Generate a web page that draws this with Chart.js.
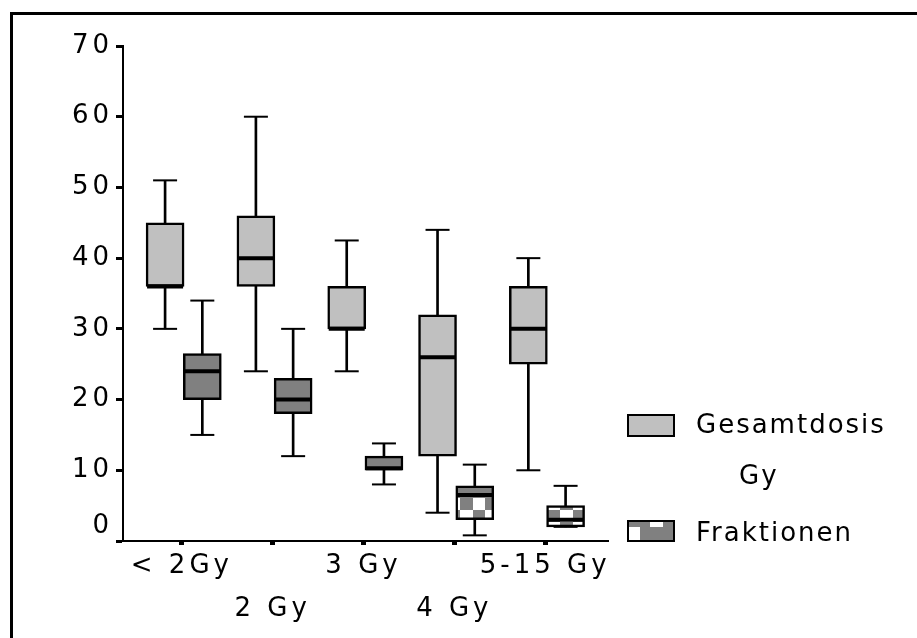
<!DOCTYPE html>
<html>
<head>
<meta charset="utf-8">
<script src="https://cdn.jsdelivr.net/npm/chart.js@4.4.0/dist/chart.umd.min.js"></script>
<style>
  body { margin: 0; background: #fff; }
  #wrap { position: relative; width: 917px; height: 638px; overflow: hidden; }
  #frame { position: absolute; left: 10px; top: 12px; width: 1000px; height: 1000px;
           border-left: 3px solid #000; border-top: 3px solid #000; }
  #chartCanvas { position: absolute; left: 0; top: 0; }
  .lg-box { position: absolute; left: 627px; width: 44px; border: 2px solid #000; overflow: hidden; }
  .lg-text { position: absolute; font-family: 'DejaVu Sans'; font-size: 26px; line-height: 26px;
             letter-spacing: 2px; color: #000; white-space: nowrap; }
  .chk { position: absolute; background: #fff; }
</style>
</head>
<body>
<div id="wrap">
  <div id="frame"></div>
  <canvas id="chartCanvas" width="917" height="638"></canvas>
  <!-- legend -->
  <div class="lg-box" style="top:414px;height:19px;background:#c0c0c0"></div>
  <div class="lg-text" style="left:696px;top:411px">Gesamtdosis</div>
  <div class="lg-text" style="left:739px;top:462px">Gy</div>
  <div class="lg-box" style="top:520px;height:18px;background:#808080">
    <div class="chk" style="left:21px;top:0;width:13px;height:5px"></div>
    <div class="chk" style="left:0;top:5px;width:11px;height:13px"></div>
  </div>
  <div class="lg-text" style="left:696px;top:519px">Fraktionen</div>
</div>
<script>
// Kategorien (x-Achse)
var categories = ['< 2Gy', '2 Gy', '3 Gy', '4 Gy', '5-15 Gy']

// Gesamtdosis Gy: Whisker, Quartile, Median
var gesMin    = [30, 24, 24, 4, 10]
var gesQ1     = [36, 36, 30, 12, 25]
var gesMedian = [36, 40, 30, 26, 30]
var gesQ3     = [45, 46, 36, 32, 36]
var gesMax    = [51, 60, 42.5, 44, 40]

// Fraktionen
var fraMin    = [15, 12, 8, 0.8, 2]
var fraQ1     = [20, 18, 10, 3, 2]
var fraMedian = [24, 20, 10.3, 6.5, 3]
var fraQ3     = [26.5, 23, 12, 7.8, 5]
var fraMax    = [34, 30, 13.8, 10.8, 7.8]

// y-Achse
var yTicks = [0, 10, 20, 30, 40, 50, 60, 70]

// Stil
var FONT = 'DejaVu Sans'
var GES_OFF = -0.185
var FRA_OFF = 0.225
var lightGray = '#c0c0c0'

// Muster fuer die Fraktionen-Boxen (grau, unten kariert)
function makeFraPattern(ctx) {
  var c = document.createElement('canvas')
  c.width = 917
  c.height = 638
  var g = c.getContext('2d')
  g.fillStyle = '#808080'
  g.fillRect(0, 0, c.width, c.height)
  g.fillStyle = '#ffffff'
  var x0 = 460, y0 = 498, cw = 12.5, ch = 12
  for (var iy = 0; y0 + iy * ch < c.height; iy++) {
    for (var ix = -37; x0 + ix * cw < c.width; ix++) {
      if (Math.abs(ix + iy) % 2 === 1) {
        var xa = Math.round(x0 + ix * cw), xb = Math.round(x0 + (ix + 1) * cw)
        g.fillRect(xa, y0 + iy * ch, xb - xa, ch)
      }
    }
  }
  return ctx.createPattern(c, 'no-repeat')
}

var xPos = categories.map((c, i) => i + 1)
function pts(vals, off) { return vals.map((v, i) => ({ x: xPos[i] + off, y: v })) }
function ranges(lo, hi, off) { return lo.map((v, i) => ({ x: xPos[i] + off, y: [v, hi[i]] })) }

var canvasChart = document.getElementById('chartCanvas')
var fraPattern = makeFraPattern(canvasChart.getContext('2d'))

// Sperrung der Schrift (das Original ist breit gezogen)
var spacingPlugin = {
  id: 'spacing',
  beforeLayout: chart => { chart.ctx.letterSpacing = '4px' },
  beforeDraw: chart => { chart.ctx.letterSpacing = '4px' }
}

function medianSet(vals, off) {
  return { type: 'line', data: pts(vals, off), showLine: false, order: 0,
    pointStyle: 'line', pointRadius: 18, pointHoverRadius: 18,
    pointBorderWidth: 4, pointBorderColor: '#000', pointHoverBorderWidth: 4 }
}
function capSet(lo, hi, off) {
  return { type: 'line', data: pts(lo, off).concat(pts(hi, off)), showLine: false, order: 1,
    pointStyle: 'line', pointRadius: 12, pointHoverRadius: 12,
    pointBorderWidth: 2, pointBorderColor: '#000', pointHoverBorderWidth: 2 }
}
function boxSet(label, lo, hi, off, fill) {
  return { type: 'bar', label: label, data: ranges(lo, hi, off), order: 2, grouped: false,
    barThickness: 38, backgroundColor: fill, borderColor: '#000', borderWidth: 2.5,
    borderSkipped: false }
}
function stemSet(lo, hi, off) {
  return { type: 'bar', data: ranges(lo, hi, off), order: 3, grouped: false,
    barThickness: 2, backgroundColor: '#000', borderWidth: 0 }
}

var myChart = new Chart(canvasChart, {
  type: 'bar',
  data: {
    datasets: [
      medianSet(gesMedian, GES_OFF),
      medianSet(fraMedian, FRA_OFF),
      capSet(gesMin, gesMax, GES_OFF),
      capSet(fraMin, fraMax, FRA_OFF),
      boxSet('Gesamtdosis Gy', gesQ1, gesQ3, GES_OFF, lightGray),
      boxSet('Fraktionen', fraQ1, fraQ3, FRA_OFF, fraPattern),
      stemSet(gesMin, gesMax, GES_OFF),
      stemSet(fraMin, fraMax, FRA_OFF)
    ]
  },
  plugins: [spacingPlugin],
  options: {
    responsive: false,
    devicePixelRatio: 1,
    animation: false,
    events: [],
    layout: { padding: { left: 20, top: 46, right: 309, bottom: 0 } },
    plugins: { legend: { display: false }, tooltip: { enabled: false } },
    scales: {
      x: {
        type: 'linear', min: 0.3516, max: 5.692, offset: false,
        afterBuildTicks: s => { s.ticks = xPos.map(v => ({ value: v })) },
        ticks: {
          autoSkip: false, maxRotation: 0,
          color: '#000', padding: 0,
          font: { family: FONT, size: 26, lineHeight: 1.64 },
          callback: v => {
            var i = Math.round(v) - 1
            if (i < 0 || i >= categories.length) return ''
            return i % 2 ? ['', categories[i]] : [categories[i], '']
          }
        },
        grid: { offset: false, drawOnChartArea: false, tickLength: 4, tickWidth: 5, tickColor: '#000' },
        border: { color: '#000', width: 2 },
        afterFit: s => { s.height = 97 }
      },
      y: {
        min: 0, max: 70,
        afterBuildTicks: s => { s.ticks = yTicks.map(v => ({ value: v })) },
        ticks: {
          color: '#000', padding: 3,
          font: { family: FONT, size: 26, lineHeight: 1.12 },
          callback: v => v === 0 ? ['0', ''] : String(v)
        },
        grid: { drawOnChartArea: false, tickLength: 7, tickWidth: 3, tickColor: '#000' },
        border: { color: '#000', width: 2 },
        afterFit: s => { s.width = 103 }
      }
    }
  }
})
</script>
</body>
</html>
